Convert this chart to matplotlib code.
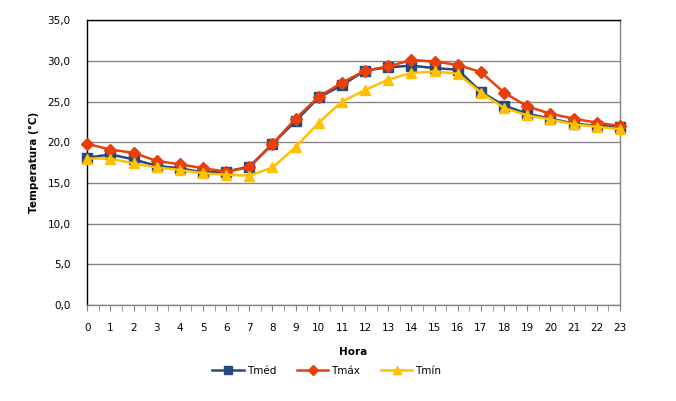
import numpy as np
import matplotlib.pyplot as plt
from matplotlib.ticker import FuncFormatter, MultipleLocator

hours = list(range(24))
t_med = [18.1, 18.5, 17.9, 17.1, 16.8, 16.3, 16.4, 17.0, 19.8, 22.6, 25.5, 27.0,
         28.8, 29.2, 29.4, 29.1, 28.9, 26.2, 24.5, 23.5, 22.9, 22.3, 22.0, 21.9]
t_max = [19.8, 19.1, 18.7, 17.7, 17.3, 16.8, 16.4, 16.9, 19.8, 22.9, 25.6, 27.3,
         28.8, 29.3, 30.1, 29.9, 29.5, 28.6, 26.1, 24.4, 23.5, 22.9, 22.4, 22.0]
t_min = [18.0, 18.0, 17.4, 16.9, 16.6, 16.2, 16.0, 15.9, 16.9, 19.4, 22.4, 25.0,
         26.4, 27.7, 28.5, 28.7, 28.4, 26.1, 24.2, 23.3, 22.8, 22.2, 21.9, 21.6]

C_MED = "#24497C"
C_MAX = "#E8400C"
C_MIN = "#FFC000"
GRID = "#868686"
FS = 7.5

fig = plt.figure(figsize=(6.76, 4.01), dpi=100)
ax = fig.add_axes([0.129, 0.239, 0.788, 0.711])

ax.plot(hours, t_med, color=C_MED, lw=1.8, marker="s", ms=6.5, label="Tméd", clip_on=False, zorder=3)
ax.plot(hours, t_max, color=C_MAX, lw=1.8, marker="D", ms=6, label="Tmáx", clip_on=False, zorder=4)
ax.plot(hours, t_min, color=C_MIN, lw=1.8, marker="^", ms=7, label="Tmín", clip_on=False, zorder=5)

ax.set_xlim(0, 23)
ax.set_ylim(0, 35)
ax.set_xticks(hours)
ax.xaxis.set_minor_locator(MultipleLocator(0.5))
ax.yaxis.set_major_locator(MultipleLocator(5))
ax.yaxis.set_major_formatter(FuncFormatter(lambda v, p: f"{v:.1f}".replace(".", ",")))
ax.grid(axis="y", color=GRID, lw=1)
ax.set_axisbelow(True)

ax.tick_params(axis="y", length=0, pad=12, labelsize=FS)
ax.tick_params(axis="x", which="both", direction="out", length=4, color=GRID, labelsize=FS, pad=9)

ax.spines["left"].set_color("black")
ax.spines["top"].set_color("black")
ax.spines["right"].set_color(GRID)
ax.spines["bottom"].set_color(GRID)
for s in ax.spines.values():
    s.set_linewidth(1)

ax.set_ylabel("Temperatura (°C)", fontsize=FS, fontweight="bold", labelpad=6)
ax.set_xlabel("Hora", fontsize=FS, fontweight="bold", labelpad=10)

ax.legend(loc="upper center", bbox_to_anchor=(0.45, -0.18), ncol=3, frameon=False,
          fontsize=FS, handlelength=3, columnspacing=2.0, handletextpad=0.3, markerscale=0.85)

plt.savefig("out.png", dpi=100)
